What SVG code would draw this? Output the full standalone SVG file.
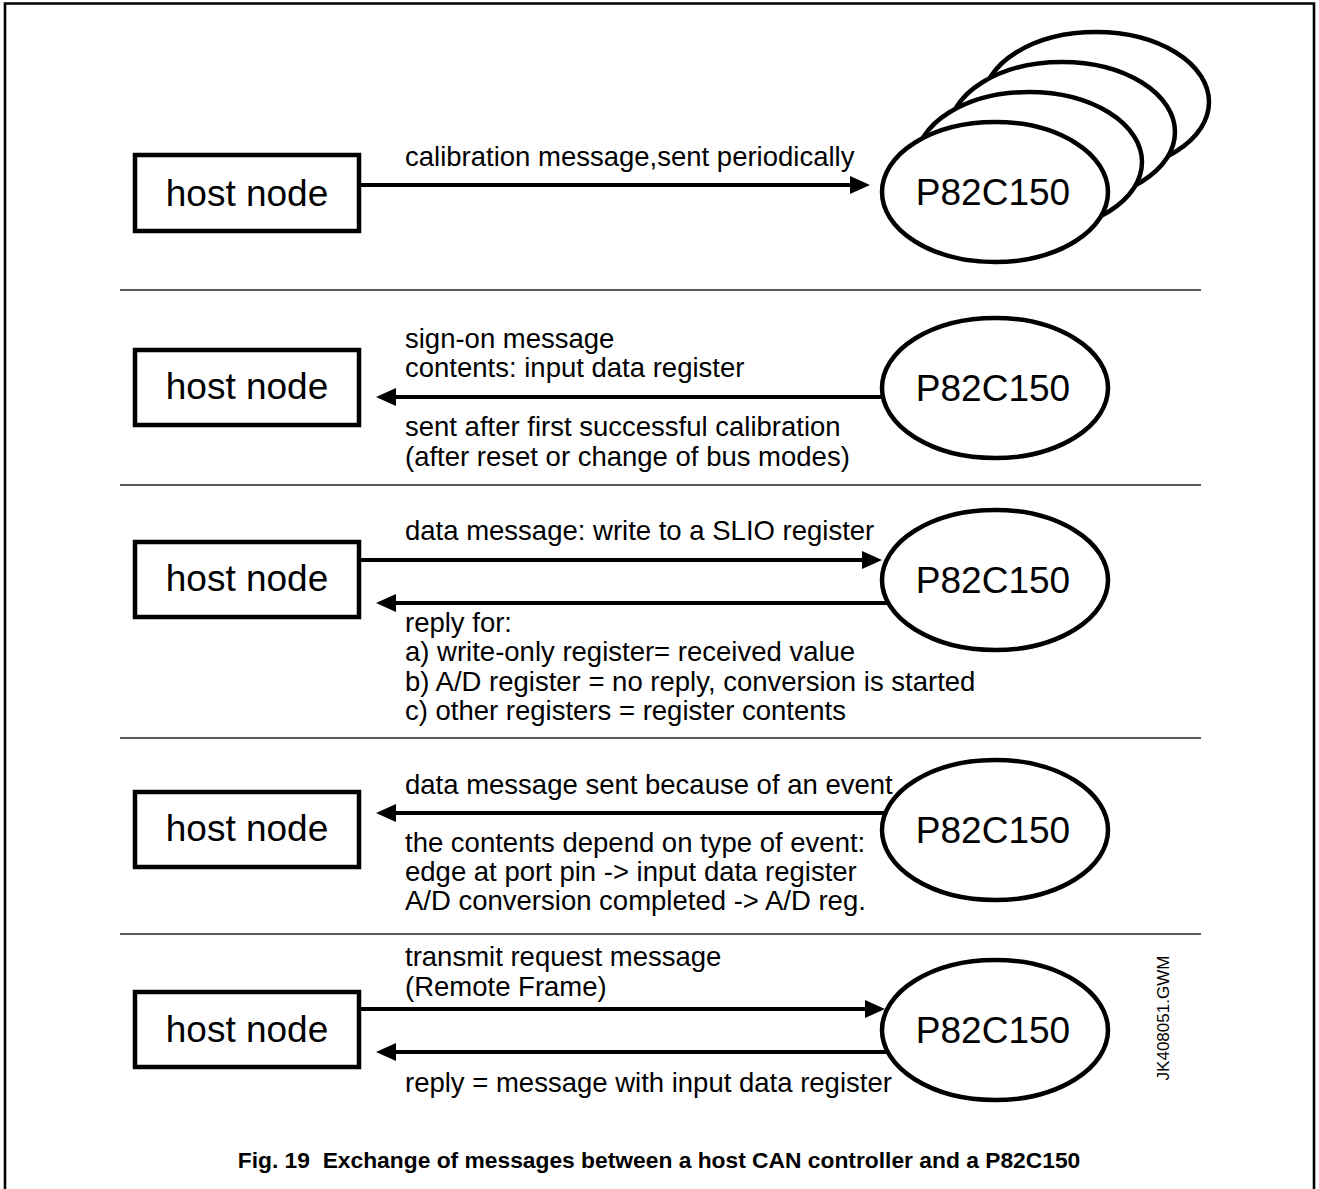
<svg xmlns="http://www.w3.org/2000/svg" width="1319" height="1189" viewBox="0 0 1319 1189">
<style>
.box{fill:#fff;stroke:#000;stroke-width:4.5}
.ell{fill:#fff;stroke:#000;stroke-width:4.5}
.node{font-family:"Liberation Sans",Arial,sans-serif;font-size:37px;fill:#000;text-anchor:middle}
.lbl{font-family:"Liberation Sans",Arial,sans-serif;font-size:27.5px;fill:#000}
.conn{stroke:#000;stroke-width:4;fill:none}
.sep{stroke:#222;stroke-width:1.6}
.cap{font-family:"Liberation Sans",Arial,sans-serif;font-size:22.8px;font-weight:bold;fill:#000;text-anchor:middle}
</style>
<defs>
<marker id="ah" viewBox="0 0 20 18" refX="1" refY="9" markerWidth="20" markerHeight="18" markerUnits="userSpaceOnUse" orient="auto">
<path d="M0,0 L20,9 L0,18 z" fill="#000"/>
</marker>
</defs>
<rect width="1319" height="1189" fill="#fff"/>
<path d="M5,1189 V3.5 H1314 V1189" fill="none" stroke="#000" stroke-width="2.6"/>

<g id="separators">
<line class="sep" x1="120" y1="290" x2="1201" y2="290"/>
<line class="sep" x1="120" y1="485" x2="1201" y2="485"/>
<line class="sep" x1="120" y1="738" x2="1201" y2="738"/>
<line class="sep" x1="120" y1="934" x2="1201" y2="934"/>
</g>

<!-- Row 1 -->
<g id="host1"><rect class="box" x="135" y="155" width="224" height="76"/><text class="node" x="247" y="206">host node</text></g>
<g id="slio1">
<ellipse class="ell" cx="1096" cy="102" rx="113" ry="70"/>
<ellipse class="ell" cx="1062" cy="132" rx="113" ry="70"/>
<ellipse class="ell" cx="1029" cy="162" rx="113" ry="70"/>
<ellipse class="ell" cx="995" cy="192" rx="113" ry="70"/>
<text class="node" x="993" y="205">P82C150</text>
</g>

<!-- Row 2 -->
<g id="host2"><rect class="box" x="135" y="350" width="224" height="75"/><text class="node" x="247" y="399">host node</text></g>
<g id="slio2"><ellipse class="ell" cx="995" cy="388" rx="113" ry="70"/><text class="node" x="993" y="401">P82C150</text></g>

<!-- Row 3 -->
<g id="host3"><rect class="box" x="135" y="542" width="224" height="75"/><text class="node" x="247" y="591">host node</text></g>
<g id="slio3"><ellipse class="ell" cx="995" cy="580" rx="113" ry="70"/><text class="node" x="993" y="593">P82C150</text></g>

<!-- Row 4 -->
<g id="host4"><rect class="box" x="135" y="792" width="224" height="75"/><text class="node" x="247" y="841">host node</text></g>
<g id="slio4"><ellipse class="ell" cx="995" cy="830" rx="113" ry="70"/><text class="node" x="993" y="843">P82C150</text></g>

<!-- Row 5 -->
<g id="host5"><rect class="box" x="135" y="992" width="224" height="75"/><text class="node" x="247" y="1042">host node</text></g>
<g id="slio5"><ellipse class="ell" cx="995" cy="1030" rx="113" ry="70"/><text class="node" x="993" y="1043">P82C150</text></g>

<g id="connectors">
<line class="conn" x1="359" y1="185" x2="851" y2="185" marker-end="url(#ah)"/>
<line class="conn" x1="883" y1="397" x2="395" y2="397" marker-end="url(#ah)"/>
<line class="conn" x1="359" y1="560" x2="863" y2="560" marker-end="url(#ah)"/>
<line class="conn" x1="887" y1="603" x2="395" y2="603" marker-end="url(#ah)"/>
<line class="conn" x1="887" y1="813" x2="395" y2="813" marker-end="url(#ah)"/>
<line class="conn" x1="359" y1="1009" x2="866" y2="1009" marker-end="url(#ah)"/>
<line class="conn" x1="887" y1="1052" x2="395" y2="1052" marker-end="url(#ah)"/>
</g>

<g id="labels">
<text class="lbl" x="405" y="166">calibration message,sent periodically</text>
<text class="lbl" x="405" y="348">sign-on message</text>
<text class="lbl" x="405" y="377">contents: input data register</text>
<text class="lbl" x="405" y="436">sent after first successful calibration</text>
<text class="lbl" x="405" y="466">(after reset or change of bus modes)</text>
<text class="lbl" x="405" y="540">data message: write to a SLIO register</text>
<text class="lbl" x="405" y="632">reply for:</text>
<text class="lbl" x="405" y="661">a) write-only register= received value</text>
<text class="lbl" x="405" y="691">b) A/D register = no reply, conversion is started</text>
<text class="lbl" x="405" y="720">c) other registers = register contents</text>
<text class="lbl" x="405" y="794">data message sent because of an event</text>
<text class="lbl" x="405" y="852">the contents depend on type of event:</text>
<text class="lbl" x="405" y="881">edge at port pin -&gt; input data register</text>
<text class="lbl" x="405" y="910">A/D conversion completed -&gt; A/D reg.</text>
<text class="lbl" x="405" y="966">transmit request message</text>
<text class="lbl" x="405" y="996">(Remote Frame)</text>
<text class="lbl" x="405" y="1092">reply = message with input data register</text>
</g>

<text x="1169" y="1018" transform="rotate(-90 1169 1018)" text-anchor="middle" font-family="'Liberation Sans',Arial,sans-serif" font-size="17" fill="#000">JK408051.GWM</text>

<text class="cap" x="659" y="1168" xml:space="preserve">Fig. 19  Exchange of messages between a host CAN controller and a P82C150</text>
</svg>
